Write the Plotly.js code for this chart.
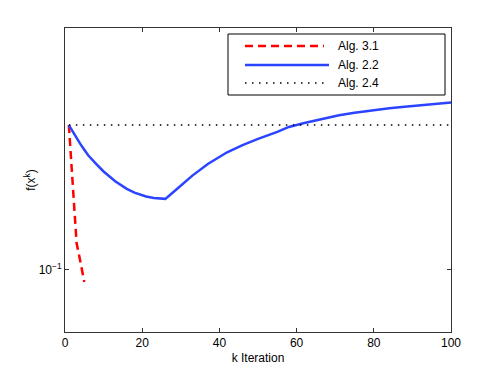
<!DOCTYPE html>
<html>
<head>
<meta charset="utf-8">
<script src="https://cdn.plot.ly/plotly-3.0.1.min.js"></script>
<style>
  html, body { margin: 0; padding: 0; background: #fff; }
  #chart { width: 498px; height: 375px; }
</style>
</head>
<body>
<div id="chart"></div>
<script>
// iterations and objective values
const kRed = [1, 2, 3, 4, 5];
const fRed = [0.2293, 0.1635, 0.1166, 0.1046, 0.0932];

const kBlue = [1, 3, 4, 5, 6, 8, 10, 13, 16, 18, 21, 23, 25, 26, 29, 33, 37, 42, 46,
               50, 55, 58, 62, 67, 71, 75, 80, 84, 88, 93, 97, 100];
const fBlue = [0.2293, 0.2127, 0.2055, 0.1990, 0.1928, 0.1839, 0.1757, 0.1661, 0.1591,
               0.1557, 0.1522, 0.1510, 0.1505, 0.1502, 0.1589, 0.1716, 0.1834, 0.1962,
               0.2043, 0.2118, 0.2205, 0.2268, 0.2319, 0.2380, 0.2425, 0.2459, 0.2497,
               0.2524, 0.2546, 0.2574, 0.2596, 0.2608];

const kBlack = [1, 100];
const fBlack = [0.2293, 0.2293];

const legendNames = ['Alg. 3.1', 'Alg. 2.2', 'Alg. 2.4'];

const font = 'Liberation Sans, Arial, Helvetica, sans-serif';
const axisColor = '#333';

// plot area in pixels, used for the hand-made legend box
const plotL = 65, plotR = 451, plotT = 28, plotB = 332;
const px = x => (x - plotL) / (plotR - plotL);
const py = y => (plotB - y) / (plotB - plotT);

const styles = [
    { color: '#ff0000', width: 2.5, dash: '8px,5px' },
    { color: '#2a44ff', width: 2.5, dash: 'solid' },
    { color: '#000000', width: 1.5, dash: '1.5px,5.5px' }
];

const traces = [
    { x: kRed, y: fRed, type: 'scatter', mode: 'lines', name: legendNames[0], line: styles[0] },
    { x: kBlue, y: fBlue, type: 'scatter', mode: 'lines', name: legendNames[1], line: styles[1] },
    { x: kBlack, y: fBlack, type: 'scatter', mode: 'lines', name: legendNames[2], line: styles[2] }
];

// legend: border + line samples + labels
const shapes = [{
    type: 'rect', xref: 'paper', yref: 'paper',
    x0: px(228), x1: px(445), y0: py(95), y1: py(34),
    line: { color: '#000', width: 1 }, fillcolor: '#fff', layer: 'above'
}];
const annotations = [];
const rowY = [46, 65, 83];
const sampleEnd = [324, 329, 327];
legendNames.forEach((name, i) => {
    shapes.push({
        type: 'line', xref: 'paper', yref: 'paper',
        x0: px(245), x1: px(sampleEnd[i]), y0: py(rowY[i]), y1: py(rowY[i]),
        line: styles[i], layer: 'above'
    });
    annotations.push({
        xref: 'paper', yref: 'paper', x: px(336), y: py(rowY[i]),
        xanchor: 'left', yanchor: 'middle', showarrow: false,
        text: name, font: { family: font, size: 12, color: '#000' }
    });
});

const layout = {
    width: 498,
    height: 375,
    margin: { l: plotL, r: 498 - plotR, t: plotT, b: 375 - plotB },
    paper_bgcolor: '#fff',
    plot_bgcolor: '#fff',
    showlegend: false,
    font: { family: font, size: 12, color: '#000' },
    xaxis: {
        range: [0, 100],
        tickvals: [0, 20, 40, 60, 80, 100],
        ticks: 'inside', ticklen: 4, tickcolor: axisColor,
        tickfont: { family: font, size: 12 },
        showline: true, linecolor: axisColor, linewidth: 1, mirror: 'ticks',
        showgrid: false, zeroline: false,
        title: { text: 'k Iteration', font: { family: font, size: 12 }, standoff: 4 }
    },
    yaxis: {
        type: 'log',
        range: [Math.log10(0.07), Math.log10(0.4)],
        tickvals: [0.1],
        ticktext: ['10<sup>−1</sup>'],
        ticks: 'inside', ticklen: 4, tickcolor: axisColor,
        tickfont: { family: font, size: 12 },
        showline: true, linecolor: axisColor, linewidth: 1, mirror: 'ticks',
        showgrid: false, zeroline: false,
        title: { text: 'f(x<sup>k</sup>)', font: { family: font, size: 12 }, standoff: 0 }
    },
    shapes: shapes,
    annotations: annotations
};

Plotly.newPlot('chart', traces, layout, { displayModeBar: false, staticPlot: true });
</script>
</body>
</html>
